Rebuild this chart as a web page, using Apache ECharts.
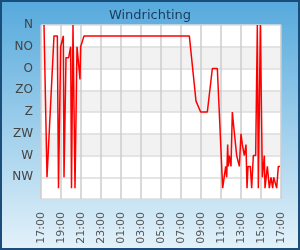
<!DOCTYPE html>
<html>
<head>
<meta charset="utf-8">
<script src="https://cdn.jsdelivr.net/npm/echarts@6/dist/echarts.min.js"></script>
<style>
    html, body { margin: 0; padding: 0; }
    #windChart { width: 300px; height: 250px; }
</style>
</head>
<body>
<div id="windChart"></div>
<script>
// meettijden (klok) en windrichting in graden
let times = ['17:18', '17:36', '18:18', '18:38', '18:45', '18:58', '19:14', '19:18', '19:30', '19:46',
    '19:58', '20:03', '20:12', '20:24', '20:36', '20:46', '20:54', '20:58', '21:10', '21:18',
    '07:50', '08:30', '08:38', '08:58', '09:38', '10:08', '10:38', '11:10', '11:20', '11:28',
    '11:34', '11:40', '11:44', '11:50', '11:56', '12:00', '12:08', '12:14', '12:34', '12:42',
    '12:50', '13:00', '13:08', '13:20', '13:30', '13:36', '13:42', '13:56', '14:04', '14:14',
    '14:28', '14:38', '14:44', '14:56', '15:08', '15:20', '15:24', '15:38', '15:50', '16:00',
    '16:10', '16:16', '16:28', '16:34', '16:44', '16:54'];
let directions = [0, 315, 22.5, 22.5, 337.5, 45, 22.5, 315, 67.5, 67.5,
    45, 337.5, 0, 337.5, 45, 45, 112.5, 45, 45, 22.5,
    22.5, 157.5, 157.5, 180, 180, 90, 90, 337.5, 337.5, 292.5,
    315, 247.5, 292.5, 270, 270, 292.5, 180, 202.5, 270, 270,
    292.5, 225, 247.5, 270, 247.5, 337.5, 292.5, 292.5, 337.5, 270,
    270, 0, 337.5, 0, 315, 270, 337.5, 292.5, 337.5, 315,
    337.5, 315, 315, 337.5, 292.5, 292.5];
let compassLabels = ['N', 'NO', 'O', 'ZO', 'Z', 'ZW', 'W', 'NW', ''];
let hourLabels = ['17:00', '19:00', '21:00', '23:00', '01:00', '03:00', '05:00',
    '07:00', '09:00', '11:00', '13:00', '15:00', '17:00'];

/**
 * Initialiseer windrichting grafiek
 */
function initWindChart() {
    let windChart = echarts.init(document.getElementById('windChart'));

    // uren sinds 17:00
    let seriesData = times.map(function (t, i) {
        let parts = t.split(':');
        let h = (parseInt(parts[0], 10) - 17 + 24) % 24 + parseInt(parts[1], 10) / 60;
        return [h, directions[i]];
    });

    let windChartOption = {
        animation: false,
        backgroundColor: {
            type: 'linear', x: 0, y: 0, x2: 0, y2: 1,
            colorStops: [
                {offset: 0, color: '#55a9dc'},
                {offset: 1, color: '#e4f2fa'}
            ]
        },
        graphic: [{
            type: 'rect',
            shape: {x: 1, y: 1, width: 298, height: 248},
            style: {fill: 'none', stroke: '#1b4d7a', lineWidth: 2},
            silent: true
        }],
        title: {
            text: 'Windrichting',
            left: 'center',
            top: 4,
            textStyle: {
                fontFamily: 'DejaVu Sans',
                fontSize: 13,
                fontWeight: 'normal',
                color: '#1a3b5e'
            }
        },
        grid: {
            left: 41,
            right: 19,
            top: 25,
            bottom: 51,
            show: true,
            backgroundColor: '#ffffff',
            borderWidth: 0,
            outerBoundsMode: 'none'
        },
        xAxis: {
            type: 'value',
            min: 0,
            max: 24,
            interval: 2,
            axisLine: {show: false},
            axisTick: {show: false},
            axisLabel: {
                rotate: 90,
                margin: 13,
                fontFamily: 'DejaVu Sans',
                fontSize: 11,
                color: '#555555',
                formatter: function (v) {
                    return hourLabels[Math.round(v / 2)];
                }
            },
            splitLine: {lineStyle: {color: '#cccccc', width: 1.5}}
        },
        yAxis: {
            type: 'value',
            inverse: true,
            min: 0,
            max: 360,
            interval: 45,
            axisLine: {show: false},
            axisTick: {show: false},
            axisLabel: {
                margin: 8,
                fontFamily: 'DejaVu Sans',
                fontSize: 12,
                color: '#444444',
                formatter: function (v) {
                    return compassLabels[Math.round(v / 45)];
                }
            },
            splitLine: {lineStyle: {color: '#dddddd', width: 1.5}},
            splitArea: {
                show: true,
                areaStyle: {
                    color: ['#ffffff', '#f2f2f2', '#ffffff', '#f2f2f2',
                        '#ffffff', '#f2f2f2', '#ffffff', '#ffffff']
                }
            }
        },
        series: [
            {
                name: 'Windrichting',
                type: 'line',
                showSymbol: false,
                lineStyle: {color: '#ff0000', width: 1.5},
                itemStyle: {color: '#ff0000'},
                data: seriesData
            }
        ]
    };

    windChart.setOption(windChartOption);
}

initWindChart();
</script>
</body>
</html>
